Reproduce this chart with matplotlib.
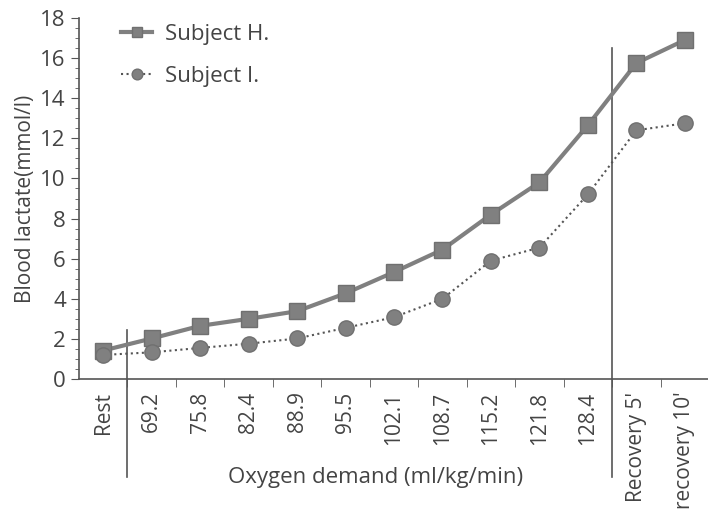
import matplotlib.pyplot as plt
import numpy as np

categories = ['Rest', '69.2', '75.8', '82.4', '88.9', '95.5', '102.1', '108.7',
              '115.2', '121.8', '128.4', "Recovery 5'", "recovery 10'"]
subject_h = [1.42, 2.02, 2.65, 3.0, 3.38, 4.27, 5.33, 6.45, 8.2, 9.8, 12.65, 15.75, 16.9]
subject_i = [1.2, 1.33, 1.55, 1.76, 2.02, 2.55, 3.08, 4.0, 5.9, 6.55, 9.2, 12.4, 12.75]

grey = '#808080'
txt = '#444444'
plt.rcParams['font.family'] = ['Open Sans', 'DejaVu Sans']

fig = plt.figure(figsize=(7.08, 5.26), dpi=100)
ax = fig.add_axes([79/708, 1-379/526, 630/708, (379-18)/526])

x = np.arange(len(categories))
ax.plot(x, subject_h, '-', color=grey, lw=3, marker='s', ms=11, mfc=grey, mec='#707070',
        label='Subject H.', zorder=3)
ax.plot(x, subject_i, ':', color='#555555', lw=1.5, marker='o', ms=11, mfc=grey, mec='#707070',
        label='Subject I.', zorder=3)

# separators for rest / recovery
ax.plot([0.5, 0.5], [-4.9, 2.45], color='#555555', lw=1.2, clip_on=False)
ax.plot([10.5, 10.5], [-4.9, 16.5], color='#555555', lw=1.2, clip_on=False)

ax.set_xlim(-0.5, 12.5)
ax.set_ylim(0, 18)
ax.set_xticks(x)
ax.set_xticklabels(categories, rotation=90, fontsize=15, color=txt)
ax.set_xticks(np.arange(0.5, 12, 1), minor=True)
ax.tick_params(axis='x', which='major', length=0, pad=9)
ax.tick_params(axis='x', which='minor', length=6, direction='out', color='#555555')
ax.set_yticks(np.arange(0, 19, 2))
ax.set_yticks(np.arange(0, 18.1, 0.5), minor=True)
ax.tick_params(axis='y', which='major', length=6, labelsize=16, labelcolor=txt, color='#555555')
ax.tick_params(axis='y', which='minor', length=3, color='#555555')

for s in ['top', 'right']:
    ax.spines[s].set_visible(False)
for s in ['left', 'bottom']:
    ax.spines[s].set_color('#555555')
    ax.spines[s].set_linewidth(1.2)

ax.set_ylabel('Blood lactate(mmol/l)', fontsize=15, color=txt, labelpad=3)
fig.text(376/708, 1-478/526, 'Oxygen demand (ml/kg/min)', fontsize=16, color=txt,
         ha='center', va='center')

ax.legend(loc='upper left', bbox_to_anchor=(0.035, 1.04), frameon=False, fontsize=16,
          markerscale=0.7, handlelength=1.4, handletextpad=0.6, labelspacing=0.95,
          labelcolor=txt)

fig.savefig('out.png', dpi=100)
